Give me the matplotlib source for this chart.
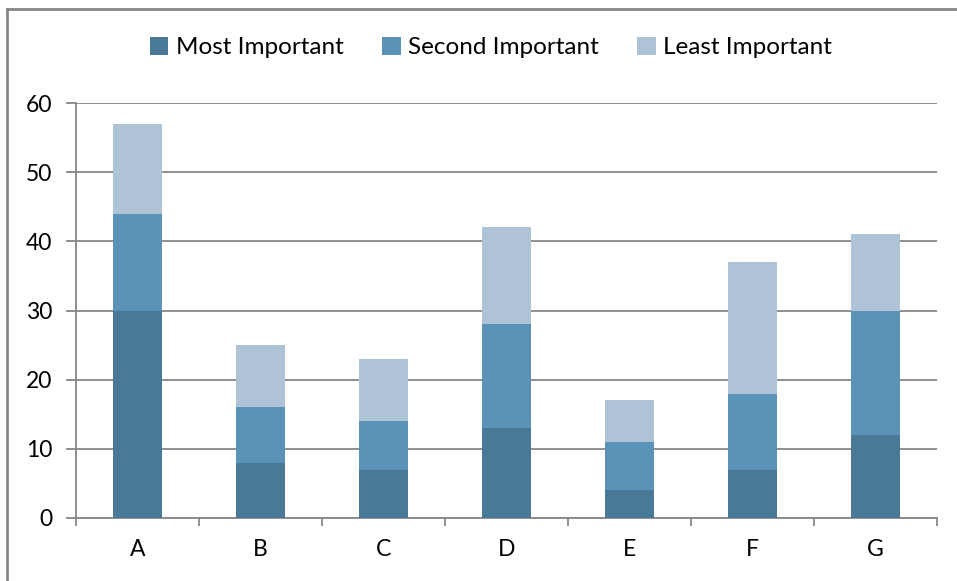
import matplotlib.pyplot as plt
import numpy as np
from matplotlib.lines import Line2D

categories = ['A', 'B', 'C', 'D', 'E', 'F', 'G']
most_important = [30, 8, 7, 13, 4, 7, 12]
second_important = [14, 8, 7, 15, 7, 11, 18]
least_important = [13, 9, 9, 14, 6, 19, 11]

plt.rcParams['font.family'] = ['Lato', 'DejaVu Sans']

fig = plt.figure(figsize=(9.57, 5.81), dpi=100)
ax = fig.add_axes([76 / 957, 1 - 518 / 581, (937 - 76) / 957, (518 - 103) / 581])

x = np.arange(len(categories))
w = 0.4
bottom2 = np.array(most_important)
bottom3 = bottom2 + np.array(second_important)
ax.bar(x, most_important, w, color='#4a7897', label='Most Important', zorder=3)
ax.bar(x, second_important, w, bottom=bottom2, color='#5b93b8', label='Second Important', zorder=3)
ax.bar(x, least_important, w, bottom=bottom3, color='#aec3d5', label='Least Important', zorder=3)

ax.set_xlim(-0.5, len(categories) - 0.5)
ax.set_ylim(0, 60)
ax.set_yticks(range(0, 61, 10))
ax.grid(axis='y', color='#878787', linewidth=1.3, zorder=0)

ax.set_xticks(x)
ax.set_xticklabels(categories, fontsize=16.5)
ax.tick_params(axis='x', length=0, pad=15)
ax.set_xticks(np.arange(-0.5, len(categories)), minor=True)
ax.tick_params(axis='x', which='minor', length=6, width=1.3, color='#878787', direction='out')
ax.tick_params(axis='y', labelsize=16.5, length=7, width=1.3, color='#878787', pad=10)

for side in ['top', 'right']:
    ax.spines[side].set_visible(False)
for side in ['left', 'bottom']:
    ax.spines[side].set_color('#878787')
    ax.spines[side].set_linewidth(1.3)

ax.legend(loc='lower center', bbox_to_anchor=(0.482, 1.055), ncol=3, frameon=False,
          fontsize=17.5, handlelength=0.75, handleheight=0.75, handletextpad=0.3,
          columnspacing=1.6)

# outer chart frame
fig.add_artist(Line2D([7 / 957, 1], [1 - 9 / 581, 1 - 9 / 581], color='#878787', linewidth=2))
fig.add_artist(Line2D([7 / 957, 7 / 957], [0, 1 - 9 / 581], color='#878787', linewidth=2))

fig.savefig('out.png', dpi=100)
